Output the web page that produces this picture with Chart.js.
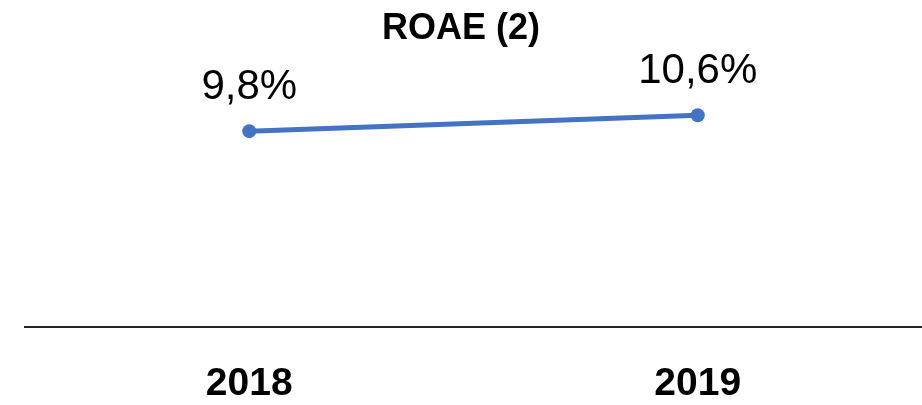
<!DOCTYPE html>
<html>
<head>
<meta charset="utf-8">
<script src="https://cdn.jsdelivr.net/npm/chart.js@4/dist/chart.umd.min.js"></script>
<style>
  html, body { margin: 0; padding: 0; background: #fff; }
  #wrap { width: 922px; height: 405px; }
</style>
</head>
<body>
<div id="wrap"><canvas id="chart"></canvas></div>
<script>
const years = ["2018", "2019"];
const roae = [9.8, 10.6];
const roaeLabels = ["9,8%", "10,6%"];

// draws the value labels above each point
const pointLabels = {
    id: "pointLabels",
    afterDatasetsDraw(chart) {
        const ctx = chart.ctx;
        const meta = chart.getDatasetMeta(0);
        ctx.save();
        ctx.font = "42px 'Liberation Sans', Arial, sans-serif";
        ctx.fillStyle = "#000";
        ctx.textAlign = "center";
        ctx.textBaseline = "middle";
        meta.data.forEach((pt, i) => {
            ctx.fillText(roaeLabels[i], pt.x, pt.y - 44);
        });
        ctx.restore();
    }
};

new Chart(document.getElementById("chart"), {
    type: "line",
    data: {
        labels: years,
        datasets: [{
            label: "ROAE (2)",
            data: roae,
            borderColor: "#4472C4",
            backgroundColor: "#4472C4",
            borderWidth: 5,
            pointRadius: 7,
            pointHoverRadius: 7,
            pointBorderWidth: 0,
            tension: 0,
            clip: false,
        }]
    },
    options: {
        responsive: true,
        maintainAspectRatio: false,
        animation: false,
        layout: {
            autoPadding: false,
            padding: 0
        },
        plugins: {
            legend: { display: false },
            tooltip: { enabled: false },
            title: {
                display: true,
                text: "ROAE (2)",
                color: "#000",
                font: { family: "'Liberation Sans', Arial, sans-serif", size: 36, weight: "bold" },
                padding: { top: 7, bottom: 37 },
            },
        },
        scales: {
            x: {
                offset: true,
                grid: { display: false, drawTicks: false },
                border: { display: true, color: "#262626", width: 2 },
                ticks: {
                    color: "#000",
                    padding: 34,
                    font: { family: "'Liberation Sans', Arial, sans-serif", size: 39, weight: "bold" },
                },
                afterFit(scale) {
                    scale.height = 78;
                    scale.paddingLeft = 0;
                    scale.paddingRight = 0;
                },
            },
            y: {
                // hidden axis, only keeps the 25px left margin
                min: 0,
                max: 12,
                grid: { display: false, drawTicks: false },
                border: { display: false },
                ticks: { display: false },
                afterFit(scale) {
                    scale.width = 25;
                },
            },
        },
    },
    plugins: [pointLabels],
});
</script>
</body>
</html>
